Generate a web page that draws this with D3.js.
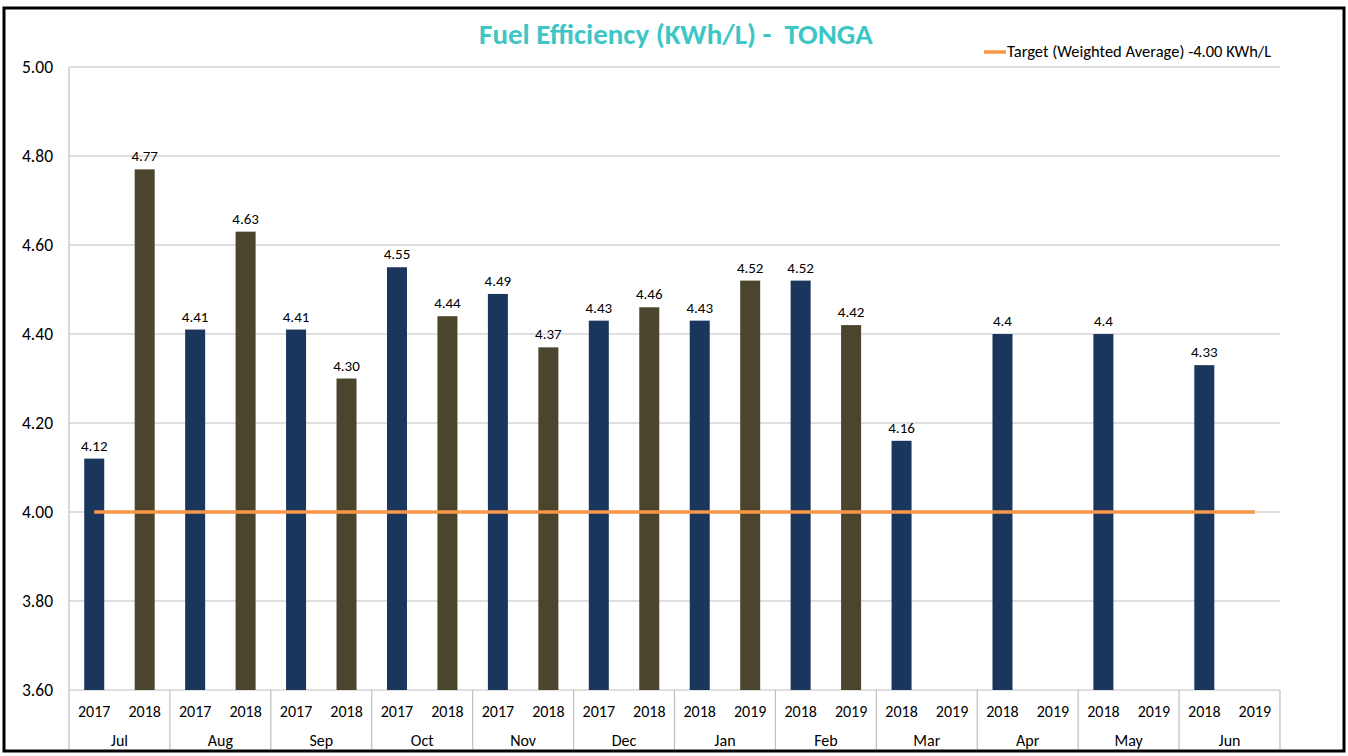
<!DOCTYPE html>
<html>
<head>
<meta charset="utf-8">
<script src="https://cdn.jsdelivr.net/npm/d3@7"></script>
<style>
  body { margin: 0; background: #fff; }
  text { font-family: Carlito, Calibri, Lato, "Open Sans", sans-serif; white-space: pre; }
</style>
</head>
<body>
<script>
var months = ["Jul","Aug","Sep","Oct","Nov","Dec","Jan","Feb","Mar","Apr","May","Jun"];
var firstYears = ["2017","2017","2017","2017","2017","2017","2018","2018","2018","2018","2018","2018"];
var secondYears = ["2018","2018","2018","2018","2018","2018","2019","2019","2019","2019","2019","2019"];
var firstValues = [4.12, 4.41, 4.41, 4.55, 4.49, 4.43, 4.43, 4.52, 4.16, 4.40, 4.40, 4.33];
var secondValues = [4.77, 4.63, 4.30, 4.44, 4.37, 4.46, 4.52, 4.42, null, null, null, null];
var firstLabels = ["4.12","4.41","4.41","4.55","4.49","4.43","4.43","4.52","4.16","4.4","4.4","4.33"];
var secondLabels = ["4.77","4.63","4.30","4.44","4.37","4.46","4.52","4.42","","","",""];
var target = 4.00;
var yTicks = [3.60, 3.80, 4.00, 4.20, 4.40, 4.60, 4.80, 5.00];

var W = 1348, H = 756;
var pLeft = 69, pRight = 1280, pTop = 67, pBottom = 690;

// one category per bar
var bars = [];
months.forEach(function(m, i) {
    bars.push({key: m + "-a", month: m, year: firstYears[i], value: firstValues[i], label: firstLabels[i], s: 0});
    bars.push({key: m + "-b", month: m, year: secondYears[i], value: secondValues[i], label: secondLabels[i], s: 1});
});

var x = d3.scaleBand().domain(bars.map(function(d){ return d.key; })).range([pLeft, pRight]);
var step = x.step();
var xc = function(k) { return x(k) + x.bandwidth() / 2; };
var bw = 20;
var y = d3.scaleLinear().domain([3.6, 5.0]).range([pBottom, pTop]);
var color = ["#1b365d", "#4a452c"];

var svg = d3.select("body").append("svg").attr("width", W).attr("height", H);

// frame
svg.append("rect").attr("x", 4).attr("y", 8).attr("width", 1340).attr("height", 743)
    .attr("fill", "#fff").attr("stroke", "#000").attr("stroke-width", 3);

// gridlines
svg.selectAll(".grid").data(yTicks).enter().append("line")
    .attr("x1", pLeft).attr("x2", pRight)
    .attr("y1", function(d){ return y(d); }).attr("y2", function(d){ return y(d); })
    .attr("stroke", "#bfbfbf").attr("stroke-width", 1.2);

svg.append("line").attr("x1", pLeft).attr("x2", pLeft).attr("y1", pTop).attr("y2", pBottom)
    .attr("stroke", "#bfbfbf").attr("stroke-width", 1.2);

// y labels
svg.selectAll(".ylab").data(yTicks).enter().append("text")
    .attr("x", 53).attr("y", function(d){ return y(d) + 6; })
    .attr("text-anchor", "end").attr("font-size", 17.5).attr("fill", "#000")
    .text(function(d){ return d3.format(".2f")(d); });

// bars
var withVal = bars.filter(function(d){ return d.value != null; });
svg.selectAll(".bar").data(withVal).enter().append("rect")
    .attr("x", function(d){ return xc(d.key) - bw / 2; })
    .attr("y", function(d){ return y(d.value); })
    .attr("width", bw)
    .attr("height", function(d){ return y(3.6) - y(d.value); })
    .attr("fill", function(d){ return color[d.s]; });

svg.selectAll(".blab").data(withVal).enter().append("text")
    .attr("x", function(d){ return xc(d.key); })
    .attr("y", function(d){ return y(d.value) - 8; })
    .attr("text-anchor", "middle").attr("font-size", 15).attr("fill", "#000")
    .text(function(d){ return d.label; });

// target line
svg.append("line")
    .attr("x1", xc(bars[0].key)).attr("x2", xc(bars[bars.length - 1].key))
    .attr("y1", y(target)).attr("y2", y(target))
    .attr("stroke", "#f79646").attr("stroke-width", 3.5);

// x axis: years
svg.selectAll(".yr").data(bars).enter().append("text")
    .attr("x", function(d){ return xc(d.key); })
    .attr("y", 717)
    .attr("text-anchor", "middle").attr("font-size", 16).attr("fill", "#000")
    .text(function(d){ return d.year; });

// months
svg.selectAll(".mo").data(months).enter().append("text")
    .attr("x", function(d, i){ return pLeft + step * (2 * i + 1); })
    .attr("y", 746)
    .attr("text-anchor", "middle").attr("font-size", 16).attr("fill", "#000")
    .text(function(d){ return d; });

// group separators
var seps = d3.range(months.length + 1);
svg.selectAll(".sep").data(seps).enter().append("line")
    .attr("x1", function(i){ return pLeft + step * 2 * i; })
    .attr("x2", function(i){ return pLeft + step * 2 * i; })
    .attr("y1", pBottom).attr("y2", 749)
    .attr("stroke", "#bfbfbf").attr("stroke-width", 1.2);

// title
svg.append("text").attr("x", 676).attr("y", 44)
    .attr("text-anchor", "middle").attr("font-size", 29).attr("font-weight", "bold")
    .attr("fill", "#3ec6c6")
    .text("Fuel Efficiency (KWh/L) -  TONGA");

// legend
svg.append("line").attr("x1", 984).attr("x2", 1006).attr("y1", 52).attr("y2", 52)
    .attr("stroke", "#f79646").attr("stroke-width", 3.5);
svg.append("text").attr("x", 1007).attr("y", 57)
    .attr("font-size", 16.5).attr("fill", "#000")
    .text("Target (Weighted Average) -4.00 KWh/L");
</script>
</body>
</html>
